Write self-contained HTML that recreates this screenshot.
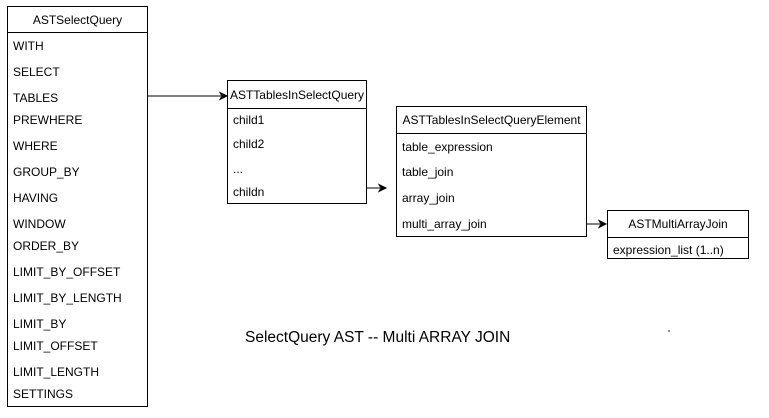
<!DOCTYPE html>
<html><head><style>
body{margin:0;width:769px;height:418px;background:#fff;position:relative;overflow:hidden;font-family:"Liberation Sans",Arial,sans-serif;font-size:12px;color:#000}
.b{position:absolute;border:1px solid #000;box-sizing:border-box}
.h{position:absolute;left:0;right:0;border-bottom:1px solid #000;text-align:center}
.t{position:absolute;white-space:nowrap;line-height:14px}
</style></head><body>
<div class="b" style="left:7px;top:6px;width:141px;height:401px">
<div class="h" style="top:0;height:25px;line-height:26px">ASTSelectQuery</div>
</div>
<div class="b" style="left:227px;top:80px;width:140px;height:124px">
<div class="h" style="top:0;height:27px;line-height:28px">ASTTablesInSelectQuery</div>
</div>
<div class="b" style="left:396px;top:106px;width:191px;height:131px">
<div class="h" style="top:0;height:26px;line-height:27px">ASTTablesInSelectQueryElement</div>
</div>
<div class="b" style="left:607px;top:210px;width:142px;height:49px">
<div class="h" style="top:0;height:26px;line-height:27px">ASTMultiArrayJoin</div>
</div>
<div style="position:absolute;left:0;top:1px">
<div class="t" style="left:13px;top:38px">WITH</div>
<div class="t" style="left:13px;top:64px">SELECT</div>
<div class="t" style="left:13px;top:90px">TABLES</div>
<div class="t" style="left:13px;top:112px">PREWHERE</div>
<div class="t" style="left:13px;top:138px">WHERE</div>
<div class="t" style="left:13px;top:164px">GROUP_BY</div>
<div class="t" style="left:13px;top:190px">HAVING</div>
<div class="t" style="left:13px;top:216px">WINDOW</div>
<div class="t" style="left:13px;top:238px">ORDER_BY</div>
<div class="t" style="left:13px;top:264px">LIMIT_BY_OFFSET</div>
<div class="t" style="left:13px;top:290px">LIMIT_BY_LENGTH</div>
<div class="t" style="left:13px;top:316px">LIMIT_BY</div>
<div class="t" style="left:13px;top:338px">LIMIT_OFFSET</div>
<div class="t" style="left:13px;top:364px">LIMIT_LENGTH</div>
<div class="t" style="left:13px;top:386px">SETTINGS</div>
<div class="t" style="left:233px;top:112px">child1</div>
<div class="t" style="left:233px;top:136px">child2</div>
<div class="t" style="left:233px;top:161px">...</div>
<div class="t" style="left:233px;top:184px">childn</div>
<div class="t" style="left:402px;top:139px">table_expression</div>
<div class="t" style="left:402px;top:164px">table_join</div>
<div class="t" style="left:402px;top:190px">array_join</div>
<div class="t" style="left:402px;top:216px">multi_array_join</div>
<div class="t" style="left:613px;top:242px">expression_list (1..n)</div>
</div>
<div class="t" style="left:245px;top:329px;font-size:15.5px;line-height:17px">SelectQuery AST -- Multi ARRAY JOIN</div>
<svg width="769" height="418" style="position:absolute;left:0;top:0">
<g stroke="#000" fill="#000">
<line x1="148" y1="96" x2="221" y2="96"/><path d="M227 96 L220 92.5 L222 96 L220 99.5Z"/>
<line x1="367" y1="188" x2="380" y2="188"/><path d="M386 188 L379 184.5 L381 188 L379 191.5Z"/>
<line x1="587" y1="224" x2="600" y2="224"/><path d="M606 224 L599 220.5 L601 224 L599 227.5Z"/>
</g>
<circle cx="669" cy="331" r="0.8" fill="#000"/>
</svg>
</body></html>
